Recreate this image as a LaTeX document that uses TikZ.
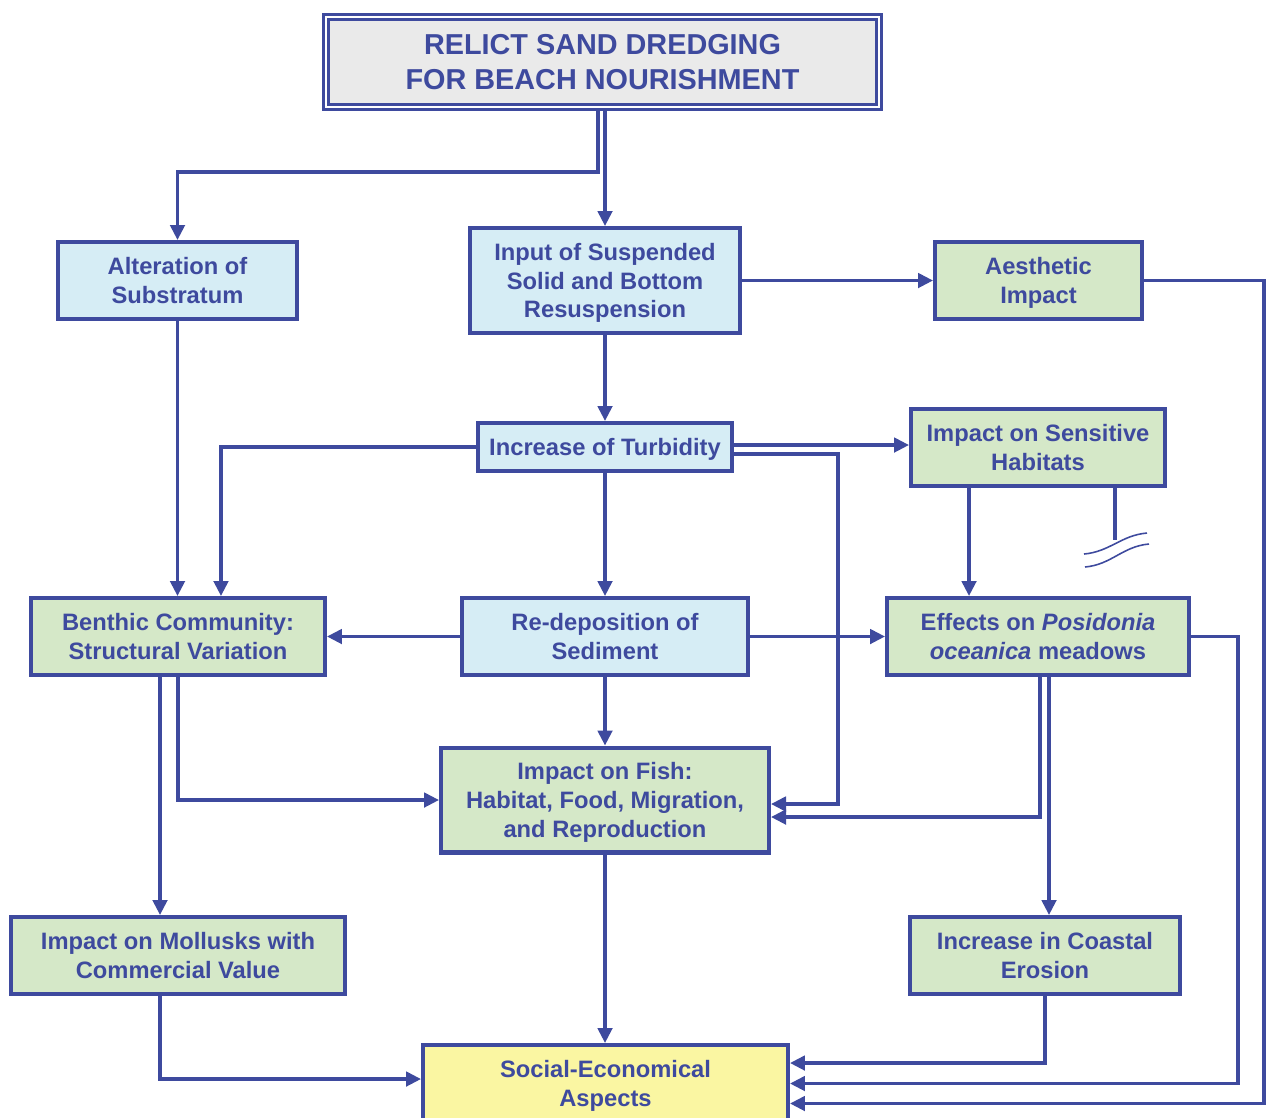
\documentclass[tikz,border=0pt]{standalone}
\usepackage{fontspec}
\setmainfont{Liberation Sans}
\usepackage{xcolor}
\usetikzlibrary{positioning,arrows.meta,calc}
\definecolor{ink}{RGB}{62,74,158}
\definecolor{greybox}{RGB}{234,234,234}
\definecolor{cyanbox}{RGB}{214,237,245}
\definecolor{greenbox}{RGB}{213,232,200}
\definecolor{yellowbox}{RGB}{250,246,162}
\begin{document}
\begin{tikzpicture}[x=0.02cm, y=-0.02cm, >={Triangle[length=3mm,width=2.9mm]},
  line width=1.9pt, color=ink, font=\fontsize{13.5}{16.3}\selectfont\bfseries,
  box/.style={draw=ink, line width=2.3pt, align=center, inner sep=2pt, text depth=-0.5pt, minimum height=1.54cm},
  cause/.style={box, fill=cyanbox},
  effect/.style={box, fill=greenbox},
  outcome/.style={box, fill=yellowbox},
  source/.style={draw=ink, fill=greybox, align=center, line width=1.7pt, double=white, double distance=1.1pt,
    minimum width=11.06cm, minimum height=1.8cm, font=\fontsize{16.4}{19.8}\selectfont\bfseries}]
\useasboundingbox (0,0) rectangle (1266,1117);
% boxes
\node[source] (top) at (602.5,62) {RELICT SAND DREDGING\\FOR BEACH NOURISHMENT};
\node[cause, minimum width=4.78cm] (alt) at (177.5,280.5) {Alteration of\\Substratum};
\node[cause, minimum width=5.4cm, minimum height=2.1cm] (in) at (605,280.5) {Input of Suspended\\Solid and Bottom\\Resuspension};
\node[effect, minimum width=4.14cm] (aes) at (1038.5,280.5) {Aesthetic\\Impact};
\node[cause, minimum width=5.08cm, minimum height=0.96cm] (turb) at (605,447) {Increase of Turbidity};
\node[effect, minimum width=5.08cm] (sens) at (1038,447.5) {Impact on Sensitive\\Habitats};
\node[effect, minimum width=5.88cm] (benth) at (178,636.5) {Benthic Community:\\Structural Variation};
\node[cause, minimum width=5.72cm] (redep) at (605,636.5) {Re-deposition of\\Sediment};
\node[effect, minimum width=6.04cm] (posi) at (1038,636.5) {Effects on \textit{Posidonia}\\\textit{oceanica} meadows};
\node[effect, minimum width=6.56cm, minimum height=2.1cm] (fish) at (605,800) {Impact on Fish:\\Habitat, Food, Migration,\\and Reproduction};
\node[effect, minimum width=6.68cm] (moll) at (178,955.5) {Impact on Mollusks with\\Commercial Value};
\node[effect, minimum width=5.4cm] (eros) at (1045,955.5) {Increase in Coastal\\Erosion};
\node[outcome, minimum width=7.3cm] (soc) at (605.5,1083.5) {Social-Economical\\Aspects};
% connectors
\draw[->] (top.south -| in.north) -- (in.north);
\draw[->] ([xshift=-0.14cm]top.south -| in.north) |- ($(alt.north)+(0,-68)$) -- (alt.north);
\draw[->] (in.east) -- (aes.west);
\draw[->] (aes.east) -- ++(2.4cm,0) |- ([yshift=-0.4cm]soc.east);
\draw[->] (in.south) -- (turb.north);
\draw[->] (turb.west) -| ([xshift=0.86cm]benth.north);
\draw[->] (alt.south) -- (alt.south |- benth.north);
\draw[->] ([yshift=0.04cm]turb.east) -- ([yshift=0.04cm]turb.east -| sens.west);
\draw[->] ([yshift=-0.14cm]turb.east) -- ++(2.08cm,0) |- ([yshift=-0.08cm]fish.east);
\draw[->] (turb.south) -- (redep.north);
\draw[->] (redep.west) -- (benth.east);
\draw[->] (redep.east) -- (posi.west);
\draw[->] ([xshift=-1.38cm]sens.south) -- ([xshift=-1.38cm]sens.south |- posi.north);
\draw ([xshift=1.54cm]sens.south) -- ++(0,-1.04cm) coordinate (brk);
\draw[line width=0.9pt] ([xshift=-0.62cm,yshift=-0.28cm]brk) to[out=5,in=185] ([xshift=0.64cm,yshift=0.14cm]brk);
\draw[line width=0.9pt] ([xshift=-0.6cm,yshift=-0.54cm]brk) to[out=5,in=185] ([xshift=0.68cm,yshift=-0.08cm]brk);
\draw[->] (posi.east) -- ++(0.94cm,0) |- (soc.east);
\draw[->] ([xshift=0.04cm]posi.south) |- ([yshift=-0.34cm]fish.east);
\draw[->] ([xshift=0.22cm]posi.south) -- ([xshift=0.22cm]posi.south |- eros.north);
\draw[->] (redep.south) -- (fish.north);
\draw[->] (benth.south) |- (fish.west);
\draw[->] ([xshift=-0.36cm]benth.south) -- ([xshift=-0.36cm]benth.south |- moll.north);
\draw[->] (fish.south) -- (fish.south |- soc.north);
\draw[->] ([xshift=-0.36cm]moll.south) |- ([yshift=0.09cm]soc.west);
\draw[->] (eros.south) |- ([yshift=0.41cm]soc.east);
\end{tikzpicture}
\end{document}
